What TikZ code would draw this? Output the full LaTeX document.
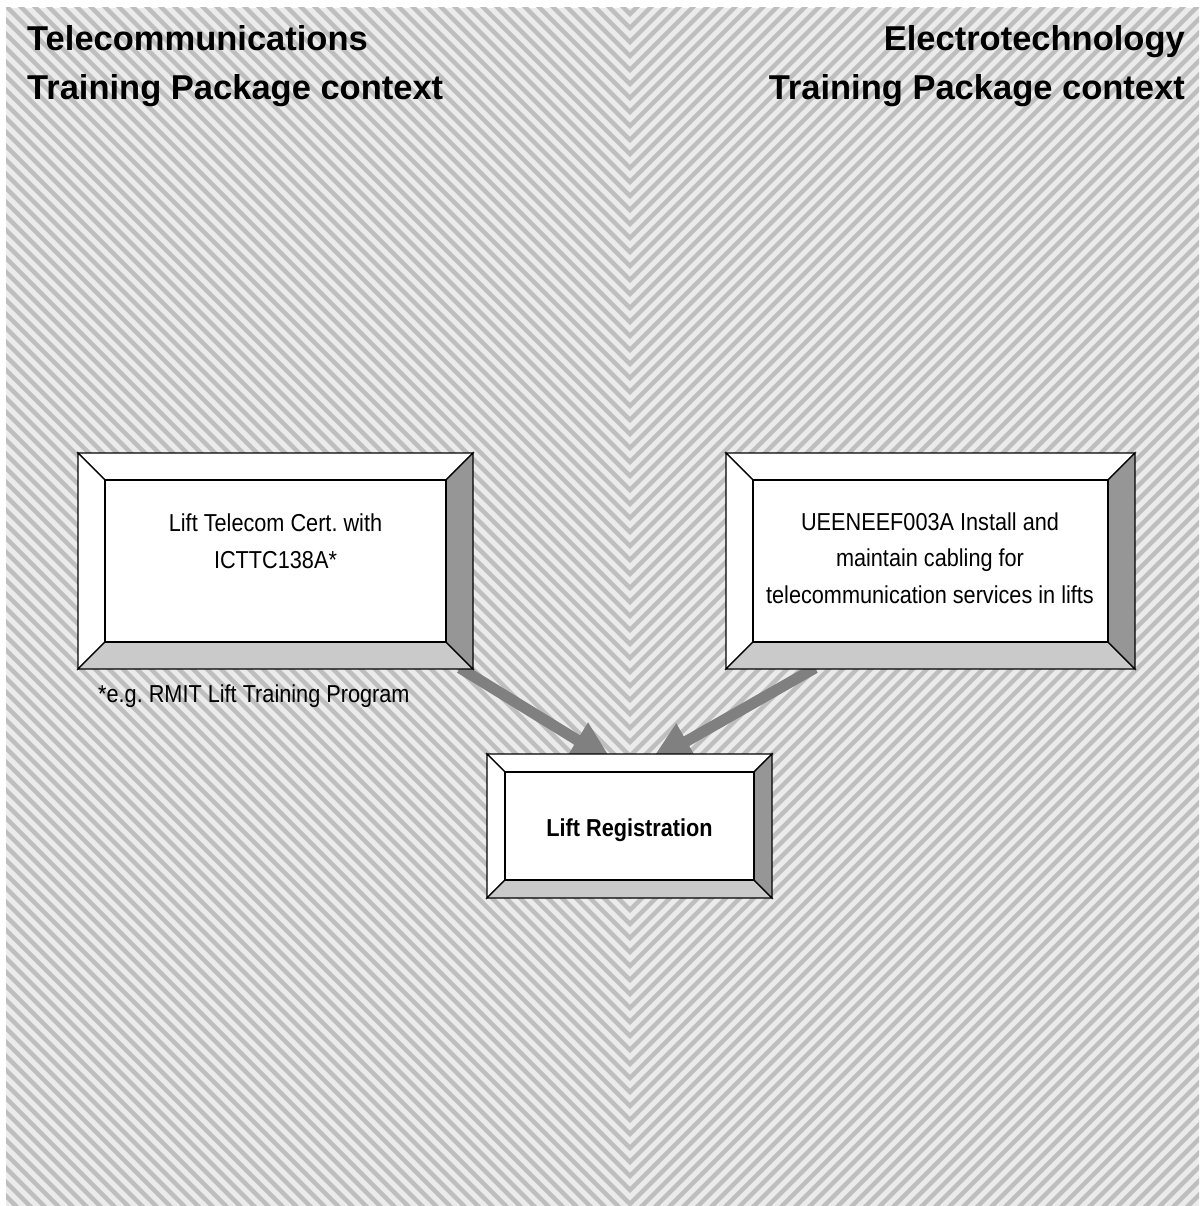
\documentclass[tikz,border=0pt]{standalone}
\usepackage{fontspec}
\setmainfont{Liberation Sans}
\newfontfamily\narrowfont{Liberation Sans}[FakeStretch=0.885]
\usetikzlibrary{calc,arrows.meta}
\frenchspacing
\definecolor{hbg}{HTML}{EBEBEB}
\definecolor{hstripe}{HTML}{BEBEBE}
\definecolor{bevbot}{HTML}{CACACA}
\definecolor{bevright}{HTML}{969696}
\definecolor{conncol}{HTML}{808080}
\newcommand\bevelbox[2]{%
  \coordinate (#1-a) at ($(#1.north west)+(#2,#2)$);
  \coordinate (#1-b) at ($(#1.north east)+(-#2,#2)$);
  \coordinate (#1-c) at ($(#1.south east)+(-#2,-#2)$);
  \coordinate (#1-d) at ($(#1.south west)+(#2,-#2)$);
  \draw[bev, fill=white] (#1.north west) -- (#1.north east) -- (#1-b) -- (#1-a) -- cycle;
  \draw[bev, fill=white] (#1.north west) -- (#1-a) -- (#1-d) -- (#1.south west) -- cycle;
  \draw[bev, fill=bevbot] (#1.south west) -- (#1-d) -- (#1-c) -- (#1.south east) -- cycle;
  \draw[bev, fill=bevright] (#1.north east) -- (#1.south east) -- (#1-c) -- (#1-b) -- cycle;
  \draw[bev, fill=white] (#1-a) rectangle (#1-c);
}
\begin{document}
\frenchspacing
\begin{tikzpicture}[x=1pt,y=-1pt,
  boxnode/.style={rectangle, inner sep=0pt, outer sep=0pt},
  bev/.style={draw=black, line width=1.3pt, line join=miter},
  conn/.style={draw=conncol, line width=11pt, -{Triangle[length=42pt,width=38pt]}},
  header/.style={inner sep=0pt, font=\fontsize{34.5}{40}\selectfont\bfseries},
  body/.style={inner sep=0pt, font=\narrowfont\fontsize{24.5}{30}\selectfont\frenchspacing},
  stripe/.style={draw=hstripe, line width=4.4pt}
]
\useasboundingbox (0,0) rectangle (1199,1206);
\fill[white] (0,0) rectangle (1199,1206);
\fill[hbg] (6,8) rectangle (1199,1206);
% left hatching
\begin{scope}
  \clip (6,8) rectangle (630,1206);
  \foreach \k in {0,...,135} {
    \draw[stripe] ({630-1300},{14*\k-1300}) -- ({640},{14*\k+10});
  }
\end{scope}
% right hatching
\begin{scope}
  \clip (630,8) rectangle (1199,1206);
  \foreach \k in {0,...,135} {
    \draw[stripe] ({620},{14*\k+10}) -- ({630+1300},{14*\k-1300});
  }
\end{scope}

% headers
\node[header, anchor=base west] (h1a) at (27,51) {Telecommunications};
\node[header, anchor=base west] (h1b) at (27,100) {Training Package context};
\node[header, anchor=base east] (h2a) at (1185,51) {Electrotechnology};
\node[header, anchor=base east] (h2b) at (1185,100) {Training Package context};

% box frames
\node[boxnode, minimum width=395pt, minimum height=216pt] (lt) at (275.5,561) {};
\node[boxnode, minimum width=409pt, minimum height=216pt] (rt) at (930.5,561) {};
\node[boxnode, minimum width=285pt, minimum height=144pt] (cb) at (629.5,826) {};

% connectors (beneath the boxes)
\draw[conn] ($(lt.south east)+(-13,-1)$) -- ($(cb.north)+(-16.5,8)$);
\draw[conn] ($(rt.south west)+(89,-1)$) -- ($(cb.north)+(20.5,8)$);

\bevelbox{lt}{27}
\bevelbox{rt}{27}
\bevelbox{cb}{18}

% texts
\node[body, anchor=base] (lt1) at (275.5,531) {Lift Telecom Cert. with};
\node[body, anchor=base] (lt2) at (275.5,568) {ICTTC138A*};
\node[body, anchor=base] (rt1) at (930,530) {UEENEEF003A Install and};
\node[body, anchor=base] (rt2) at (930,566.5) {maintain cabling for};
\node[body, anchor=base] (rt3) at (930,603) {telecommunication services in lifts};
\node[body, anchor=base, font=\narrowfont\fontsize{24.5}{30}\selectfont\bfseries] (cbt) at (629.5,836) {Lift Registration};
\node[body, anchor=base west] (fn) at (98,702) {*e.g. RMIT Lift Training Program};
\end{tikzpicture}
\end{document}
